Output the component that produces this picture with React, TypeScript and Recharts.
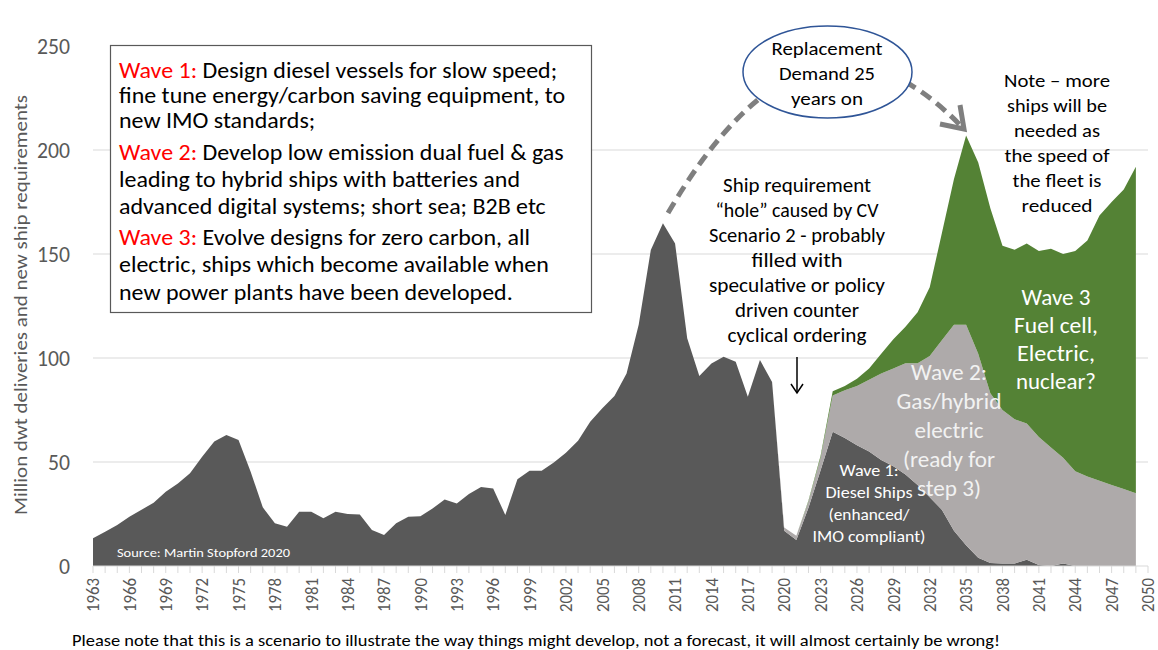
import React from 'react';
import { AreaChart, Area, XAxis, YAxis, CartesianGrid } from 'recharts';

const FONT = 'Carlito, Calibri, Lato, "Open Sans", sans-serif';

// Years on the category axis (data runs to 2049, the axis to 2050)
const years = [
  1963, 1964, 1965, 1966, 1967, 1968, 1969, 1970, 1971, 1972,
  1973, 1974, 1975, 1976, 1977, 1978, 1979, 1980, 1981, 1982,
  1983, 1984, 1985, 1986, 1987, 1988, 1989, 1990, 1991, 1992,
  1993, 1994, 1995, 1996, 1997, 1998, 1999, 2000, 2001, 2002,
  2003, 2004, 2005, 2006, 2007, 2008, 2009, 2010, 2011, 2012,
  2013, 2014, 2015, 2016, 2017, 2018, 2019, 2020, 2021, 2022,
  2023, 2024, 2025, 2026, 2027, 2028, 2029, 2030, 2031, 2032,
  2033, 2034, 2035, 2036, 2037, 2038, 2039, 2040, 2041, 2042,
  2043, 2044, 2045, 2046, 2047, 2048, 2049,
];
const axisYears = [...years, 2050];
const labelYears = [
  1963, 1966, 1969, 1972, 1975, 1978, 1981, 1984, 1987, 1990, 1993, 1996,
  1999, 2002, 2005, 2008, 2011, 2014, 2017, 2020, 2023, 2026, 2029, 2032,
  2035, 2038, 2041, 2044, 2047, 2050,
];
const yTicks = [0, 50, 100, 150, 200, 250];

// Million dwt: historic deliveries 1963-2021, then wave 1 diesel ships 2022-2049
const deliveries = [
  13.3, 16.5, 19.7, 23.7, 27, 30.4, 35.7, 39.7, 44.6, 52.5,
  59.8, 63, 60.6, 45.3, 28.2, 20.5, 18.9, 26.1, 26.1, 22.9,
  26.1, 25, 24.8, 17.3, 14.9, 20.5, 23.7, 23.9, 27.7, 32,
  30, 34.6, 38, 37.3, 24.5, 41.7, 45.8, 45.8, 49.7, 54.5,
  60.2, 69.4, 75.8, 81.7, 92.6, 116, 151.9, 164.8, 155.1, 109.5,
  91.3, 97.4, 100.6, 98.2, 81.4, 99, 88.5, 17, 12.5,
];
const wave1 = [
  28, 46, 64.5, 61.5, 58, 55, 51, 48, 44, 39, 33,
  27, 17, 10, 4, 1.5, 1.2, 1.2, 3, 0.5, 0,
  1.2, 0, 0, 0, 0, 0, 0,
];
// wave 2 from 2020, wave 3 from 2022
const wave2 = [
  1.5, 2, 3, 6, 17.5, 23, 28.5, 34.5, 41.5, 47,
  53.5, 58.5, 68, 81.5, 99, 106, 98, 81.5, 73.8, 69.3,
  65.5, 61.5, 57, 50.8, 45.5, 43, 41, 39, 37, 35,
];
const wave3 = [
  0.5, 1, 2, 2, 3.5, 5.5, 9.5, 14, 17.5, 24.5,
  33, 51.5, 70, 91, 92, 89, 79, 81.5, 86.5, 89.5,
  95.5, 98, 106, 113.5, 127.5, 136, 144, 157,
];

const dark = [...deliveries, ...wave1];
const data = years.map((year, i) => ({
  year,
  wave1: dark[i],
  wave2: year >= 2020 ? wave2[year - 2020] : 0,
  wave3: year >= 2022 ? wave3[year - 2022] : 0,
}));

type Line = { t: string; w?: number; red?: string };

const boxLines: Line[] = [
  { red: 'Wave 1: ', t: 'Design diesel vessels for slow speed;' },
  { t: 'fine tune energy/carbon  saving equipment, to' },
  { t: 'new IMO standards;' },
  { red: 'Wave 2: ', t: 'Develop low emission dual fuel & gas' },
  { t: 'leading to hybrid ships with batteries and' },
  { t: 'advanced digital systems; short sea; B2B etc' },
  { red: 'Wave 3: ', t: 'Evolve designs for zero carbon, all' },
  { t: 'electric, ships which become available when' },
  { t: 'new power plants have been developed.' },
];
const boxRows = [70, 95, 120, 152, 179, 206, 237, 264, 292];

const ellipseLines: Line[] = [
  { t: 'Replacement', w: 111 },
  { t: 'Demand 25', w: 96 },
  { t: 'years on', w: 72 },
];
const holeLines: Line[] = [
  { t: 'Ship requirement', w: 148 },
  { t: '\u201Chole\u201D caused by CV', w: 163 },
  { t: 'Scenario 2 - probably', w: 176 },
  { t: 'filled with', w: 91 },
  { t: 'speculative or policy', w: 176 },
  { t: 'driven counter', w: 124 },
  { t: 'cyclical ordering', w: 139 },
];
const noteLines: Line[] = [
  { t: 'Note \u2013 more', w: 106 },
  { t: 'ships will be', w: 100 },
  { t: 'needed as', w: 86 },
  { t: 'the speed of', w: 105 },
  { t: 'the fleet is', w: 89 },
  { t: 'reduced', w: 71 },
];
const wave3Lines: Line[] = [
  { t: 'Wave 3', w: 69 },
  { t: 'Fuel cell,', w: 84 },
  { t: 'Electric,', w: 78 },
  { t: 'nuclear?', w: 80 },
];
const wave2Lines: Line[] = [
  { t: 'Wave 2:', w: 76 },
  { t: 'Gas/hybrid', w: 105 },
  { t: 'electric', w: 69 },
  { t: '(ready for', w: 92 },
  { t: 'step 3)', w: 64 },
];
const wave1Lines: Line[] = [
  { t: 'Wave 1:', w: 59 },
  { t: 'Diesel Ships', w: 87 },
  { t: '(enhanced/', w: 81 },
  { t: 'IMO compliant)', w: 113 },
];

function Block({ x, y, lh, size, fill, lines }: any) {
  return (
    <g>
      {lines.map((l: Line, i: number) => (
        <text
          key={i}
          x={x}
          y={y + i * lh}
          dy="0.35em"
          fontSize={size}
          fill={fill}
          textAnchor="middle"
          textLength={l.w}
          lengthAdjust="spacingAndGlyphs"
        >
          {l.t}
        </text>
      ))}
    </g>
  );
}

function YearTick({ x, y, payload }: any) {
  if (!labelYears.includes(payload.value)) return null;
  return (
    <text
      transform={`translate(${x},${y}) rotate(-90) scale(1,1.05)`}
      textAnchor="end"
      dy="0.35em"
      fontSize={17}
      fill="#595959"
      fontFamily={FONT}
      textLength={34}
      lengthAdjust="spacingAndGlyphs"
    >
      {payload.value}
    </text>
  );
}

function ValueTick({ x, y, payload }: any) {
  const s = String(payload.value);
  return (
    <text
      x={x}
      y={y}
      dy="0.35em"
      textAnchor="end"
      fontSize={22}
      fill="#595959"
      fontFamily={FONT}
      textLength={s.length * 11}
      lengthAdjust="spacingAndGlyphs"
    >
      {s}
    </text>
  );
}

export default function App() {
  return (
    <div style={{ position: 'relative', width: 1158, height: 650, fontFamily: FONT, background: '#fff' }}>
      <style>{'body{margin:0}'}</style>
      <AreaChart
        width={1158}
        height={650}
        data={data}
        margin={{ top: 46, right: 10, bottom: 24, left: 0 }}
      >
        <CartesianGrid vertical={false} stroke="#d9d9d9" horizontalValues={[50, 100, 150, 200]} />
        <XAxis
          dataKey="year"
          type="number"
          domain={[1963, 2050]}
          ticks={axisYears}
          interval={0}
          height={60}
          stroke="#d9d9d9"
          tickSize={7}
          tickMargin={5}
          tick={<YearTick />}
        />
        <YAxis
          domain={[0, 250]}
          ticks={yTicks}
          width={93}
          axisLine={false}
          tickLine={false}
          tickSize={0}
          tickMargin={23}
          tick={<ValueTick />}
        />
        <Area type="linear" dataKey="wave1" stackId="s" stroke="none" fill="#595959" fillOpacity={1} isAnimationActive={false} />
        <Area type="linear" dataKey="wave2" stackId="s" stroke="none" fill="#aeaaaa" fillOpacity={1} isAnimationActive={false} />
        <Area type="linear" dataKey="wave3" stackId="s" stroke="none" fill="#548235" fillOpacity={1} isAnimationActive={false} />
      </AreaChart>

      <svg
        width={1158}
        height={650}
        style={{ position: 'absolute', left: 0, top: 0, pointerEvents: 'none' }}
        fontFamily={FONT}
      >
        {/* y axis title */}
        <text
          transform="translate(20,305) rotate(-90)"
          textAnchor="middle"
          dy="0.35em"
          fontSize={19}
          fill="#595959"
          textLength={420}
          lengthAdjust="spacingAndGlyphs"
        >
          Million dwt deliveries and new ship requirements
        </text>

        {/* legend box */}
        <rect x={110.5} y={45.5} width={481} height={267} fill="#fff" stroke="#595959" strokeWidth={1.2} />
        {boxLines.map((l, i) => (
          <text
            key={i}
            transform={`translate(119,${boxRows[i]}) scale(1.09,1)`}
            dy="0.35em"
            fontSize={22}
            fill="#000"
          >
            {l.red ? <tspan fill="#ff0000">{l.red}</tspan> : null}
            {l.t}
          </text>
        ))}

        {/* replacement arc */}
        <path d="M 668 213 Q 810 -30 961 126" fill="none" stroke="#7f7f7f" strokeWidth={5} strokeDasharray="12 7" />
        <polyline points="940,124 964,129 960,105" fill="none" stroke="#7f7f7f" strokeWidth={5} />
        <ellipse cx={827.5} cy={72} rx={84.5} ry={46} fill="#fff" stroke="#2f5597" strokeWidth={1.5} />
        <Block x={827} y={48} lh={25} size={19} fill="#000" lines={ellipseLines} />

        <Block x={797} y={185} lh={25} size={20} fill="#000" lines={holeLines} />
        <line x1={797} y1={357} x2={797} y2={392} stroke="#000" strokeWidth={1.5} />
        <polyline points="791,384 797,393 803,384" fill="none" stroke="#000" strokeWidth={1.5} />

        <Block x={1057} y={80} lh={25} size={19} fill="#000" lines={noteLines} />
        <Block x={1056} y={297} lh={28} size={22} fill="#fff" lines={wave3Lines} />
        <Block x={949} y={372} lh={29} size={22} fill="#f2f2f2" lines={wave2Lines} />
        <Block x={869} y={470} lh={22} size={16} fill="#fff" lines={wave1Lines} />

        <text x={117} y={552} dy="0.35em" fontSize={13} fill="#fff" textLength={173} lengthAdjust="spacingAndGlyphs">
          Source: Martin Stopford 2020
        </text>
        <text x={72} y={640} dy="0.35em" fontSize={17} fill="#000" textLength={928} lengthAdjust="spacingAndGlyphs">
          Please note that this is a scenario to illustrate the way things might develop, not a forecast, it will almost certainly be wrong!
        </text>
      </svg>
    </div>
  );
}
